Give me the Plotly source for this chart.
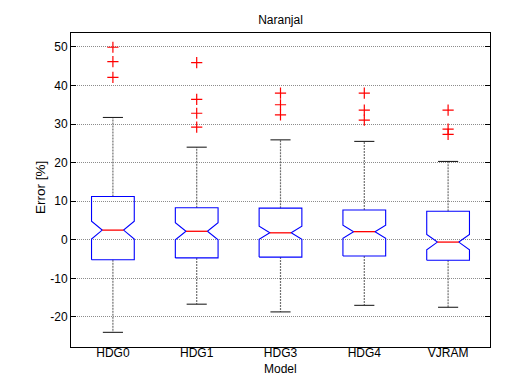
import plotly.graph_objects as go

# Naranjal - error of each model (notched boxplot, MATLAB style)
models = ["HDG0", "HDG1", "HDG3", "HDG4", "VJRAM"]
positions = [1, 2, 3, 4, 5]

q1 = [-5.2, -4.7, -4.5, -4.2, -5.3]
median = [2.5, 2.2, 1.8, 2.1, -0.6]
q3 = [11.2, 8.3, 8.2, 7.7, 7.4]
lower_whisker = [-24.0, -16.7, -18.7, -17.0, -17.5]
upper_whisker = [31.7, 24.0, 25.9, 25.5, 20.3]
notch = [2.3, 2.2, 1.7, 1.7, 2.0]

outliers = {
    "HDG0": [49.9, 46.2, 42.1],
    "HDG1": [45.9, 36.4, 32.8, 29.2],
    "HDG3": [38.0, 35.0, 32.4],
    "HDG4": [38.0, 33.6, 31.0],
    "VJRAM": [33.6, 28.7, 27.3],
}

y_ticks = [-20, -10, 0, 10, 20, 30, 40, 50]
y_ticktext = [str(v) for v in y_ticks]  # plain hyphen like matlab

box_w = 0.51
cap_half = 0.12
font = "Liberation Sans, Arial, sans-serif"

fig = go.Figure()

# whiskers (dashed, drawn first so the boxes sit on top)
wx, wy = [], []
cx, cy = [], []
for p, lo, hi, a, b in zip(positions, lower_whisker, upper_whisker, q1, q3):
    wx += [p, p, None, p, p, None]
    wy += [b, hi, None, a, lo, None]
    cx += [p - cap_half, p + cap_half, None, p - cap_half, p + cap_half, None]
    cy += [hi, hi, None, lo, lo, None]
fig.add_trace(go.Scatter(x=wx, y=wy, mode="lines",
                         line=dict(color="#707070", width=1.2, dash="2px,1px"),
                         hoverinfo="skip"))
fig.add_trace(go.Scatter(x=cx, y=cy, mode="lines",
                         line=dict(color="#222222", width=1.1),
                         hoverinfo="skip"))

# notched boxes, outline built from the quartiles and notch half-span
bx, by = [], []
half = box_w / 2
waist = box_w / 4
for p, a, m, b, n in zip(positions, q1, median, q3, notch):
    bx += [p - half, p - half, p - waist, p - half, p - half,
           p + half, p + half, p + waist, p + half, p + half, p - half, None]
    by += [a, m - n, m, m + n, b, b, m + n, m, m - n, a, a, None]
fig.add_trace(go.Scatter(x=bx, y=by, mode="lines",
                         line=dict(color="#0000ff", width=1.1),
                         hoverinfo="skip"))

# red medians across the notch waist
mx, my = [], []
for p, m in zip(positions, median):
    mx += [p - waist, p + waist, None]
    my += [m, m, None]
fig.add_trace(go.Scatter(x=mx, y=my, mode="lines",
                         line=dict(color="#ff0000", width=1.3),
                         hoverinfo="skip"))

# outliers
ox, oy = [], []
for p, name in zip(positions, models):
    ox += [p] * len(outliers[name])
    oy += outliers[name]
fig.add_trace(go.Scatter(x=ox, y=oy, mode="markers",
                         marker=dict(symbol="cross-thin", size=8,
                                     line=dict(color="#ff0000", width=1.2)),
                         hoverinfo="skip"))

fig.update_layout(
    width=515, height=378,
    margin=dict(l=63, r=33, t=25, b=39),
    plot_bgcolor="white", paper_bgcolor="white",
    showlegend=False,
    font=dict(family=font, size=12, color="black"),
    title=dict(text="Naranjal", x=272.5 / 515, xanchor="center",
               y=1 - 12 / 378, yanchor="middle", yref="container",
               font=dict(size=12)),
)
fig.update_xaxes(
    range=[0.5, 5.5], tickvals=positions, ticktext=models,
    showgrid=False, zeroline=False, ticks="", ticklen=0,
    ticklabelstandoff=-5,
    showline=True, linecolor="black", linewidth=1, mirror=True,
    tickfont=dict(size=12),
)
fig.update_yaxes(
    range=[-27.8, 53.6], tickvals=y_ticks, ticktext=y_ticktext,
    showgrid=True, gridcolor="#8c8c8c", griddash="1px,1px", gridwidth=1,
    zeroline=False, ticks="inside", ticklen=5, tickcolor="black",
    showline=True, linecolor="black", linewidth=1, mirror="ticks",
    tickfont=dict(size=12),
)

fig.add_annotation(text="Error [%]", textangle=-90, xref="paper", yref="paper",
                   x=0, y=0.5, xanchor="center", yanchor="middle",
                   xshift=-31, yshift=2, showarrow=False, font=dict(size=13.5))
fig.add_annotation(text="Model", xref="paper", yref="paper",
                   x=0.5, y=0, xanchor="center", yanchor="middle",
                   yshift=-22, showarrow=False, font=dict(size=12))

fig.write_html("out.html")
